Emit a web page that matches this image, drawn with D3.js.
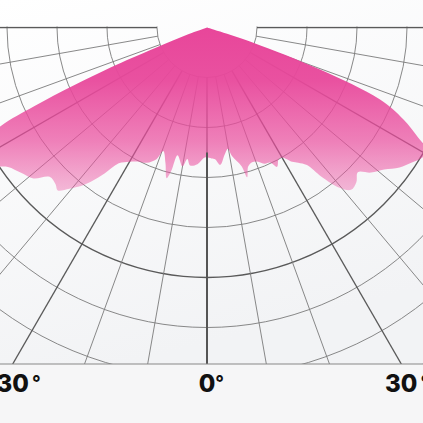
<!DOCTYPE html>
<html>
<head>
<meta charset="utf-8">
<script src="https://cdn.jsdelivr.net/npm/d3@7/dist/d3.min.js"></script>
<style>
  html, body { margin: 0; padding: 0; background: #f6f6f7; }
  svg { display: block; }
</style>
</head>
<body>
<div id="chart"></div>
<script>
// polar light distribution, angle from nadir in degrees (negative = left)
const angles = [-74, -70, -68.5, -67.5, -66.5, -65.5, -64.5, -63, -61, -59, -57, -55, -52, -49,
  -46.5, -44, -42.5, -40.5, -39, -37, -35, -33, -30, -27.5, -24, -21, -19.5, -17, -15, -14,
  -13, -10, -8.5, -7, -4, -1, 2, 3.5, 5.5, 8, 9.8, 11, 14, 15, 16.5, 18.5, 20.5, 23, 25,
  26.7, 28.5, 30, 32.4, 34, 36, 37.5, 39.6, 41.6, 44, 46.2, 48.5, 51.3, 54, 56.5, 59.2,
  61.1, 62.5, 64.9, 67.4, 69.6, 71.9, 74];
const intensity = [0, 40, 110, 210, 290, 380, 456, 500, 524, 524, 510, 486, 472, 460,
  434, 436, 442, 424, 410, 386, 356, 324, 310, 302, 296, 282, 262, 284, 312, 296,
  262, 282, 266, 278, 274, 260, 262, 264, 276, 256, 246, 262, 286, 310, 290, 284, 286, 296, 298,
  312, 300, 300, 318, 326, 340, 376, 416, 434, 430, 418, 438, 454, 476, 490, 504,
  500, 476, 434, 374, 240, 96, 0];

const ringValues = [100, 200, 300, 400, 500, 600, 700, 800];
const majorRing = 500;
const spokeAngles = d3.range(-90, 91, 10);
const labelAngles = [-30, 0, 30];
const labelTexts = ["30", "0", "30"];

const W = 423, H = 423;
const cx = 207, cy = 27.5, bottomY = 364;

const svg = d3.select("#chart").append("svg")
  .attr("width", W)
  .attr("height", H);

const defs = svg.append("defs");

const bg = defs.append("linearGradient")
  .attr("id", "bg")
  .attr("x1", 0).attr("y1", 0).attr("x2", 0.3).attr("y2", 1);
bg.append("stop").attr("offset", "0%").attr("stop-color", "#ffffff");
bg.append("stop").attr("offset", "100%").attr("stop-color", "#f2f3f5");

const pink = defs.append("linearGradient")
  .attr("id", "pink")
  .attr("gradientUnits", "userSpaceOnUse")
  .attr("x1", 0).attr("y1", 0).attr("x2", 0).attr("y2", 175);
pink.append("stop").attr("offset", "0%").attr("stop-color", "#e8469a").attr("stop-opacity", 1);
pink.append("stop").attr("offset", "30%").attr("stop-color", "#e8489b").attr("stop-opacity", 0.95);
pink.append("stop").attr("offset", "65%").attr("stop-color", "#ea4c9d").attr("stop-opacity", 0.7);
pink.append("stop").attr("offset", "100%").attr("stop-color", "#ec55a2").attr("stop-opacity", 0.32);

defs.append("clipPath").attr("id", "plotClip")
  .append("rect")
  .attr("x", -cx).attr("y", -1)
  .attr("width", W).attr("height", bottomY - cy + 1);

svg.append("rect")
  .attr("width", W).attr("height", bottomY)
  .attr("fill", "url(#bg)");

const g = svg.append("g")
  .attr("transform", `translate(${cx},${cy})`);

const r = d3.scaleLinear().domain([0, 800]).range([0, 400]);
const rad = a => a * Math.PI / 180;

const grid = g.append("g").attr("clip-path", "url(#plotClip)");

// rings
grid.selectAll("circle.ring")
  .data(ringValues)
  .join("circle")
  .attr("class", "ring")
  .attr("r", d => r(d))
  .attr("fill", "none")
  .attr("stroke", d => d === majorRing ? "#5a5a5a" : "#7a7a7a")
  .attr("stroke-width", d => d === majorRing ? 1.4 : 0.9);

// spokes start at the first ring
grid.selectAll("line.spoke")
  .data(spokeAngles)
  .join("line")
  .attr("class", "spoke")
  .attr("x1", d => r(ringValues[0]) * Math.sin(rad(d)))
  .attr("y1", d => r(ringValues[0]) * Math.cos(rad(d)))
  .attr("x2", d => r(1400) * Math.sin(rad(d)))
  .attr("y2", d => r(1400) * Math.cos(rad(d)))
  .attr("stroke", d => d % 30 === 0 ? "#5a5a5a" : "#7a7a7a")
  .attr("stroke-width", d => d % 30 === 0 ? 1.3 : 0.9);

// light distribution
const curve = d3.lineRadial()
  .angle((d, i) => Math.PI - rad(angles[i]))
  .radius((d, i) => r(intensity[i]))
  .curve(d3.curveCatmullRom.alpha(0.5));

g.append("path")
  .attr("d", curve(angles) + "Z")
  .attr("fill", "url(#pink)");

// nadir axis
g.append("line")
  .attr("x1", 0).attr("x2", 0)
  .attr("y1", r(250)).attr("y2", bottomY - cy)
  .attr("stroke", "#555")
  .attr("stroke-width", 2);

// bottom border
svg.append("line")
  .attr("x1", 0).attr("x2", W)
  .attr("y1", bottomY).attr("y2", bottomY)
  .attr("stroke", "#888")
  .attr("stroke-width", 1.2);

// angle labels, number centred on the spoke foot, degree sign after it
labelAngles.forEach((a, i) => {
  const foot = cx + (bottomY - cy) * Math.tan(rad(a));
  const t = svg.append("text")
    .attr("x", foot)
    .attr("y", 392)
    .attr("text-anchor", "middle")
    .attr("font-family", "Inter, 'Open Sans', sans-serif")
    .attr("font-weight", 800)
    .attr("font-size", 24)
    .attr("fill", "#111")
    .text(labelTexts[i]);
  const w = t.node().getComputedTextLength();
  svg.append("text")
    .attr("x", foot + w / 2 + (a === 0 ? 0 : 3))
    .attr("y", 389)
    .attr("font-family", "Inter, 'Open Sans', sans-serif")
    .attr("font-weight", 700)
    .attr("font-size", 19)
    .attr("fill", "#111")
    .text("°");
});
</script>
</body>
</html>
